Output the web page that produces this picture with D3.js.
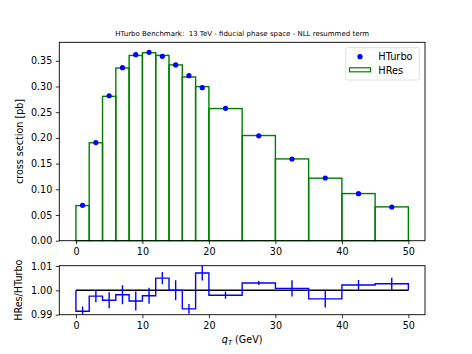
<!DOCTYPE html>
<html>
<head>
	<script src="https://cdn.jsdelivr.net/npm/d3@7"></script>
	<style>
		body { margin: 0; background: white; }
		text { font-family: "DejaVu Sans", sans-serif; white-space: pre; }
	</style>
</head>
<body>
	<script>
		// bin edges (GeV)
		var edges = [0, 2, 4, 6, 8, 10, 12, 14, 16, 18, 20, 25, 30, 35, 40, 45, 50];
		// HTurbo cross section per bin [pb]
		var hturbo = [0.0689, 0.191, 0.282, 0.3366, 0.362, 0.3665, 0.3587, 0.342, 0.321, 0.2977,
			0.2576, 0.204, 0.159, 0.122, 0.0915, 0.0656];
		// HRes/HTurbo ratio per bin
		var ratio = [0.9914, 0.9976, 0.9959, 0.9982, 0.9956, 0.9978, 1.0050, 1.0000, 0.9924, 1.0071,
			0.9980, 1.0030, 1.0008, 0.9965, 1.0022, 1.0027];
		// uncertainty on the ratio
		var ratioErr = [0.002, 0.0025, 0.0033, 0.0039, 0.0039, 0.0033, 0.0025, 0.0041, 0.002, 0.0031,
			0.0015, 0.0008, 0.0033, 0.0035, 0.002, 0.0025];
		var xTicks = [0, 10, 20, 30, 40, 50];
		var yTicksTop = [0, 0.05, 0.10, 0.15, 0.20, 0.25, 0.30, 0.35];
		var yTicksBot = [0.99, 1.00, 1.01];

		var width = 472, height = 354;
		var left = 59.3, right = 425;
		var topY0 = 42.3, topY1 = 240.7;
		var botY0 = 265.7, botY1 = 314.7;

		var bins = hturbo.map(function (v, i) {
			return { lo: edges[i], hi: edges[i + 1], mid: (edges[i] + edges[i + 1]) / 2,
				turbo: v, hres: v * ratio[i], r: ratio[i], e: ratioErr[i] };
		});

		var svg = d3.select('body').append('svg')
			.attr('width', width)
			.attr('height', height);

		var x = d3.scaleLinear().domain([-2.5, 52.5]).range([left, right]);
		var yTop = d3.scaleLinear().domain([0, 0.386]).range([topY1, topY0]);
		var yBot = d3.scaleLinear().domain([0.99, 1.0101]).range([botY1, botY0]);

		svg.append('text')
			.attr('x', (left + right) / 2)
			.attr('y', 36)
			.attr('text-anchor', 'middle')
			.style('font-size', '7px')
			.text('HTurbo Benchmark:  13 TeV - fiducial phase space - NLL resummed term');

		// ---- top panel
		var topG = svg.append('g');

		topG.selectAll('rect.hres')
			.data(bins)
			.enter().append('rect')
			.attr('class', 'hres')
			.attr('x', function (d) { return x(d.lo); })
			.attr('y', function (d) { return yTop(d.hres); })
			.attr('width', function (d) { return x(d.hi) - x(d.lo); })
			.attr('height', function (d) { return yTop(0) - yTop(d.hres); })
			.attr('fill', 'none')
			.attr('stroke', 'green')
			.attr('stroke-width', 1.4);

		topG.selectAll('circle')
			.data(bins)
			.enter().append('circle')
			.attr('cx', function (d) { return x(d.mid); })
			.attr('cy', function (d) { return yTop(d.turbo); })
			.attr('r', 2.6)
			.attr('fill', 'blue');

		topG.append('g')
			.attr('transform', 'translate(0,' + topY1 + ')')
			.call(d3.axisBottom(x).tickValues(xTicks).tickSize(3.5).tickPadding(3.5).tickFormat(d3.format('d')));
		topG.append('g')
			.attr('transform', 'translate(' + left + ',0)')
			.call(d3.axisLeft(yTop).tickValues(yTicksTop).tickSize(3.5).tickPadding(3.5).tickFormat(d3.format('.2f')));

		topG.append('rect')
			.attr('x', left).attr('y', topY0)
			.attr('width', right - left).attr('height', topY1 - topY0)
			.attr('fill', 'none').attr('stroke', 'black').attr('stroke-width', 0.9);

		topG.append('text')
			.attr('transform', 'translate(20,' + (topY0 + topY1) / 2 + ') rotate(-90)')
			.attr('text-anchor', 'middle')
			.attr('dy', '0.35em')
			.style('font-size', '9.6px')
			.text('cross section [pb]');

		// legend
		var lg = svg.append('g');
		lg.append('rect')
			.attr('x', 345.7).attr('y', 47.7).attr('width', 73.6).attr('height', 32.3).attr('rx', 2)
			.attr('fill', 'white').attr('stroke', '#d8d8d8').attr('stroke-width', 0.8);
		lg.append('circle').attr('cx', 360).attr('cy', 56.7).attr('r', 2.6).attr('fill', 'blue');
		lg.append('text').attr('x', 378.3).attr('y', 60.3).style('font-size', '9.8px').text('HTurbo');
		lg.append('rect').attr('x', 349.5).attr('y', 67.8).attr('width', 21).attr('height', 4)
			.attr('fill', 'none').attr('stroke', 'green').attr('stroke-width', 1.2);
		lg.append('text').attr('x', 378.3).attr('y', 73.8).style('font-size', '9.8px').text('HRes');

		// ---- bottom panel
		var botG = svg.append('g');

		botG.append('defs').append('clipPath').attr('id', 'clipbot')
			.append('rect').attr('x', left).attr('y', botY0).attr('width', right - left).attr('height', botY1 - botY0);

		var inner = botG.append('g').attr('clip-path', 'url(#clipbot)');

		inner.append('line')
			.attr('x1', x(0)).attr('x2', x(50))
			.attr('y1', yBot(1)).attr('y2', yBot(1))
			.attr('stroke', 'black').attr('stroke-width', 1.5);

		var stepPts = [[0, 1]];
		bins.forEach(function (d) { stepPts.push([d.lo, d.r]); stepPts.push([d.hi, d.r]); });
		stepPts.push([50, 1]);
		inner.append('path')
			.attr('d', d3.line().x(function (p) { return x(p[0]); }).y(function (p) { return yBot(p[1]); })(stepPts))
			.attr('fill', 'none')
			.attr('stroke', 'blue')
			.attr('stroke-width', 1.4);

		inner.selectAll('line.err')
			.data(bins)
			.enter().append('line')
			.attr('class', 'err')
			.attr('x1', function (d) { return x(d.mid); })
			.attr('x2', function (d) { return x(d.mid); })
			.attr('y1', function (d) { return yBot(d.r - d.e); })
			.attr('y2', function (d) { return yBot(d.r + d.e); })
			.attr('stroke', 'blue')
			.attr('stroke-width', 1.4);

		botG.append('g')
			.attr('transform', 'translate(0,' + botY1 + ')')
			.call(d3.axisBottom(x).tickValues(xTicks).tickSize(3.5).tickPadding(3.5).tickFormat(d3.format('d')));
		botG.append('g')
			.attr('transform', 'translate(' + left + ',0)')
			.call(d3.axisLeft(yBot).tickValues(yTicksBot).tickSize(3.5).tickPadding(3.5).tickFormat(d3.format('.2f')));

		botG.append('rect')
			.attr('x', left).attr('y', botY0)
			.attr('width', right - left).attr('height', botY1 - botY0)
			.attr('fill', 'none').attr('stroke', 'black').attr('stroke-width', 0.9);

		botG.append('text')
			.attr('transform', 'translate(19,' + (botY0 + botY1) / 2 + ') rotate(-90)')
			.attr('text-anchor', 'middle')
			.attr('dy', '0.35em')
			.style('font-size', '9.6px')
			.text('HRes/HTurbo');

		var xl = botG.append('text')
			.attr('x', (left + right) / 2)
			.attr('y', 343)
			.attr('text-anchor', 'middle')
			.style('font-size', '9.6px');
		xl.append('tspan').style('font-style', 'italic').text('q');
		xl.append('tspan').style('font-style', 'italic').style('font-size', '6.8px').attr('dy', 2).text('T');
		xl.append('tspan').attr('dy', -2).text(' (GeV)');

		svg.selectAll('.tick text').style('font-size', '9.6px').style('font-family', '"DejaVu Sans", sans-serif');
		svg.selectAll('.domain').remove();
		svg.selectAll('.tick line').attr('stroke-width', 0.8);
	</script>
</body>
</html>
